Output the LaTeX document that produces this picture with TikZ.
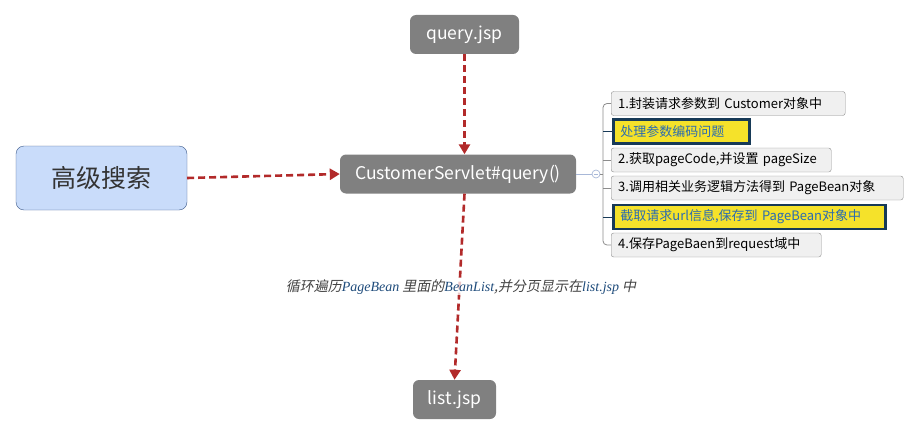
\documentclass[tikz,border=0pt]{standalone}
\usepackage{fontspec}
\setmainfont{Noto Sans CJK SC}
\newfontfamily\slantcjk[FakeSlant=0.2]{Noto Sans CJK SC}
\newfontfamily\latitalic{Liberation Serif}
\usetikzlibrary{positioning, calc, arrows.meta}
\definecolor{boxgray}{HTML}{808080}
\definecolor{arrowred}{HTML}{B22A2A}
\definecolor{topicfill}{HTML}{C9DCFA}
\definecolor{topicedge}{HTML}{3D5A8A}
\definecolor{itemfill}{HTML}{F0F0F0}
\definecolor{itemedge}{HTML}{8C8C8C}
\definecolor{hlyellow}{HTML}{F5E22A}
\definecolor{navy}{HTML}{173A57}
\definecolor{hlblue}{HTML}{2B6CB0}
\definecolor{labelgray}{HTML}{444444}
\definecolor{knobblue}{HTML}{A8B8D8}
\newcommand{\lat}[1]{{\latitalic\itshape\color{hlblue!70!black}#1}}
\tikzset{
    mainbox/.style={rectangle, rounded corners=6pt, fill=boxgray, text=white, font=\fontsize{17.5}{20}\selectfont, inner sep=0pt},
    topicbox/.style={rectangle, rounded corners=8pt, draw=topicedge, fill=topicfill, text=black!80, font=\fontsize{25}{28}\selectfont, inner sep=0pt, minimum width=171pt, minimum height=64pt},
    itembox/.style={rectangle, rounded corners=2.5pt, draw=itemedge, fill=itemfill, font=\fontsize{13}{15}\selectfont, anchor=west, inner xsep=7pt, inner ysep=0pt, minimum height=24pt, text width=#1-14pt, align=left},
    hlbox/.style={itembox=#1, rounded corners=0pt, draw=navy, line width=2.5pt, fill=hlyellow, text=hlblue},
    arrow/.style={-{Triangle[length=10pt,width=11pt]}, dash pattern=on 7pt off 4pt, line width=2.6pt, draw=arrowred},
    branch/.style={draw=itemedge, line width=0.8pt, rounded corners=4pt}
}
\begin{document}
\begin{tikzpicture}[x=1pt, y=-1pt]
    \useasboundingbox (0,0) rectangle (920,436);

    % Main nodes
    \node[mainbox, minimum width=109pt, minimum height=39pt] (query) at (464.5, 34.5) {query.jsp};
    \node[mainbox, minimum width=236pt, minimum height=39pt] (servlet) at (458, 174) {CustomerServlet\#query()};
    \node[mainbox, minimum width=83pt, minimum height=39pt] (list) at (454.5, 399.5) {list.jsp};
    \node[topicbox] (search) at (101.5, 178) {高级搜索};

    % Steps
    \node[itembox=234pt] (s1) at (611, 103.5) {1.封装请求参数到 Customer对象中};
    \node[hlbox=136pt]   (s2) at (612.2, 131.5) {处理参数编码问题};
    \node[itembox=220pt] (s3) at (611, 160) {2.获取pageCode,并设置 pageSize};
    \node[itembox=292pt] (s4) at (611, 188) {3.调用相关业务逻辑方法得到 PageBean对象};
    \node[hlbox=272pt]   (s5) at (612.2, 217) {截取请求url信息,保存到 PageBean对象中};
    \node[itembox=210pt] (s6) at (611, 245) {4.保存PageBaen到request域中};

    % Branches
    \node[circle, draw=knobblue, fill=white, inner sep=0pt, minimum size=8pt, line width=0.7pt] (knob) at (596, 174) {};
    \draw[knobblue, line width=0.7pt] ($(knob.center)+(-2.2,0)$) -- ($(knob.center)+(2.2,0)$);
    \coordinate (spine) at (603, 174);
    \draw[knobblue, line width=0.7pt] (servlet.east) -- (knob.west);
    \draw[branch] (knob.east) -- (spine);
    \draw[branch] (s1.west) -| (spine) |- (s6.west);
    \foreach \s in {s3,s4} \draw[branch] (spine |- \s.west) -- (\s.west);
    \foreach \s in {s2,s5} \draw[branch, draw=navy] (spine |- \s.west) -- (\s.west);

    % Connections
    \draw[arrow] (search.east) -- (servlet.west);
    \draw[arrow] (query.south) -- (query.south |- servlet.north);
    \draw[arrow] (query.south |- servlet.south) -- (list.north);
    \node[fill=white, fill opacity=0.75, text opacity=1, inner sep=1pt, text=labelgray, font=\fontsize{14}{16}\selectfont\slantcjk] (loop) at (461, 287)
        {循环遍历\lat{PageBean} 里面的\lat{BeanList},并分页显示在\lat{list.jsp} 中};
\end{tikzpicture}
\end{document}
